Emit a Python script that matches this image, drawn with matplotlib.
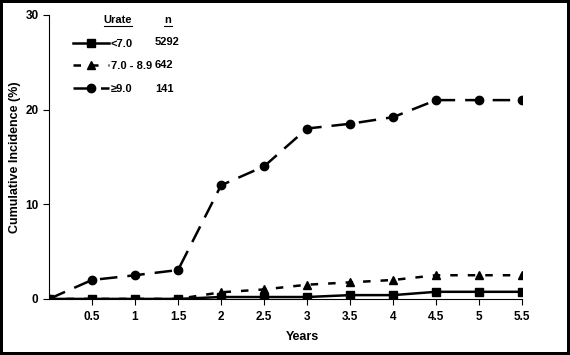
import matplotlib.pyplot as plt
from matplotlib.lines import Line2D

plt.rcParams['font.family'] = ['Liberation Sans', 'DejaVu Sans']
plt.rcParams['font.weight'] = 'bold'

# ==========================
# DATA
# ==========================
years = [0, 0.5, 1, 1.5, 2, 2.5, 3, 3.5, 4, 4.5, 5, 5.5]
low_urate = [0, 0, 0, 0, 0.2, 0.2, 0.2, 0.4, 0.4, 0.75, 0.75, 0.75]
mid_urate = [0, 0, 0, 0, 0.7, 1.0, 1.5, 1.75, 2.0, 2.5, 2.5, 2.5]
high_urate = [0, 2.0, 2.5, 3.05, 12.0, 14.0, 18.0, 18.5, 19.2, 21.0, 21.0, 21.0]

group_labels = ['<7.0', '7.0 - 8.9', '\u22659.0']
group_n = ['5292', '642', '141']
x_ticks = [0.5, 1, 1.5, 2, 2.5, 3, 3.5, 4, 4.5, 5, 5.5]
y_ticks = [0, 10, 20, 30]

# ==========================
# PLOT
# ==========================
fig = plt.figure(figsize=(5.7, 3.55), dpi=100)
fig.patch.set_edgecolor('black')
fig.patch.set_linewidth(3)
ax = fig.add_axes([0.086, 0.158, 0.83, 0.80])

ax.plot(years, high_urate, color='black', lw=1.8, dashes=(7, 4),
        marker='o', markersize=6, label=group_labels[2], zorder=3)
ax.plot(years, mid_urate, color='black', lw=1.8, dashes=(3, 4),
        marker='^', markersize=6, label=group_labels[1], zorder=4)
ax.plot(years, low_urate, color='black', lw=1.8, linestyle='-',
        marker='s', markersize=6, label=group_labels[0], zorder=5)

ax.set_xlim(0, 5.5)
ax.set_ylim(0, 30)
ax.set_xticks(x_ticks)
ax.set_xticklabels([f'{t:g}' for t in x_ticks])
ax.set_yticks(y_ticks)
ax.tick_params(axis='both', labelsize=8.5, length=4, width=0.8, direction='out')
ax.tick_params(axis='x', pad=5)
ax.spines['top'].set_visible(False)
ax.spines['right'].set_visible(False)
ax.spines['left'].set_linewidth(0.8)
ax.spines['bottom'].set_linewidth(0.8)
for lab in ax.get_xticklabels() + ax.get_yticklabels():
    lab.set_fontweight('bold')

ax.set_xlabel('Years', fontsize=9, fontweight='bold', va='center')
ax.set_ylabel('Cumulative Incidence (%)', fontsize=9, fontweight='bold', va='center')
ax.xaxis.set_label_coords(0.535, -0.135)
ax.yaxis.set_label_coords(-0.072, 0.5)

# legend in the upper left, with header and n column
handles, labels = ax.get_legend_handles_labels()
handles, labels = handles[::-1], labels[::-1]
leg = ax.legend(handles, labels, loc='upper left', bbox_to_anchor=(0.03, 0.952),
                frameon=False, fontsize=8, handlelength=3.2, handletextpad=0.2,
                labelspacing=1.15)
for t in leg.get_texts():
    t.set_fontweight('bold')

fig.text(118 / 570, 1 - 20 / 355, 'Urate', ha='center', va='center',
         fontsize=8, fontweight='bold')
fig.add_artist(Line2D([104 / 570, 132 / 570], [1 - 26 / 355] * 2, color='black', lw=0.8))
fig.text(168 / 570, 1 - 20 / 355, 'n', ha='center', va='center',
         fontsize=8, fontweight='bold')
fig.add_artist(Line2D([164 / 570, 172 / 570], [1 - 26 / 355] * 2, color='black', lw=0.8))
for i, n in enumerate(group_n):
    fig.text(155 / 570, 1 - (42 + 23.5 * i) / 355, n, ha='left', va='center',
             fontsize=8, fontweight='bold')

fig.savefig('out.png', dpi=100)
